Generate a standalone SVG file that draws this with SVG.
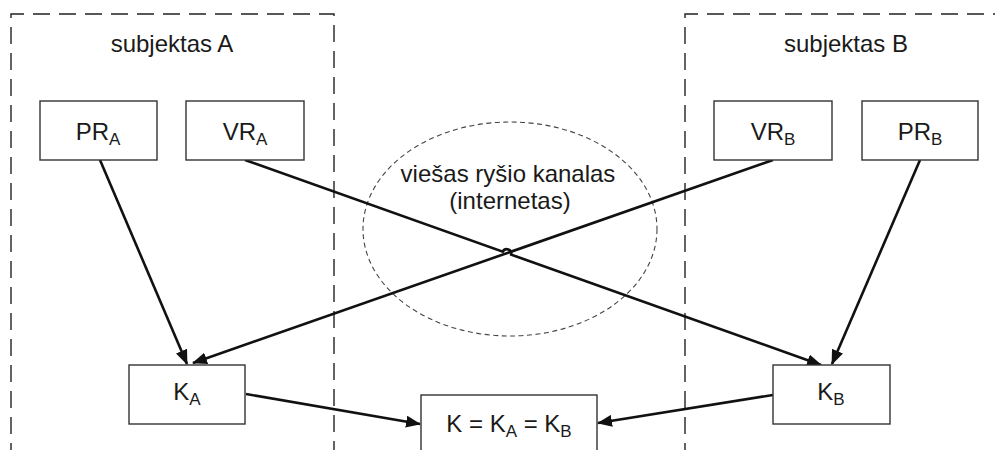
<svg xmlns="http://www.w3.org/2000/svg" width="995" height="450" viewBox="0 0 995 450">
  <style>
    .bg { fill: #ffffff; }
    .zone { fill: none; stroke: #222; stroke-width: 1.4; stroke-dasharray: 17 9; }
    .cloud { fill: none; stroke: #444; stroke-width: 1.1; stroke-dasharray: 5 3.5; }
    .box { fill: #ffffff; stroke: #333; stroke-width: 1.4; }
    .edge { fill: none; stroke: #111; stroke-width: 2.6; }
    .lbl { font-family: "Liberation Sans", Arial, sans-serif; fill: #1a1a1a; }
    .big { font-size: 24px; }
    .nd { font-size: 24px; }
    .sub { font-size: 17px; }
  </style>
  <defs>
    <marker id="arrow" viewBox="0 0 15 12" refX="14" refY="6" markerWidth="15" markerHeight="12" markerUnits="userSpaceOnUse" orient="auto">
      <path d="M0,0 L15,6 L0,12 z" fill="#111"/>
    </marker>
  </defs>

  <rect class="bg" x="0" y="0" width="995" height="450"/>

  <!-- party zones -->
  <g id="zone-a">
    <path class="zone" d="M11,460 L11,14 L334,14 L334,460"/>
    <text class="lbl big" x="172" y="52" text-anchor="middle">subjektas A</text>
  </g>
  <g id="zone-b">
    <path class="zone" d="M685,460 L685,14 L1000,14"/>
    <text class="lbl big" x="846" y="52" text-anchor="middle">subjektas B</text>
  </g>

  <!-- public channel -->
  <g id="channel">
    <ellipse class="cloud" cx="510" cy="229" rx="147" ry="107"/>
    <text class="lbl big" x="508" y="182" text-anchor="middle">viešas ryšio kanalas</text>
    <text class="lbl big" x="510" y="209" text-anchor="middle">(internetas)</text>
  </g>

  <!-- connectors -->
  <g id="connectors">
    <line class="edge" x1="100" y1="160" x2="187" y2="364" marker-end="url(#arrow)"/>
    <line class="edge" x1="920" y1="160" x2="832" y2="364" marker-end="url(#arrow)"/>
    <line class="edge" x1="773" y1="160" x2="193" y2="363" marker-end="url(#arrow)"/>
    <path class="edge" d="M245,160 L502.8,251.6 A4.5,4.5 0 0 1 511.2,254.6 L821,365" marker-end="url(#arrow)"/>
    <line class="edge" x1="246" y1="394" x2="420" y2="424" marker-end="url(#arrow)"/>
    <line class="edge" x1="773" y1="395" x2="598" y2="423" marker-end="url(#arrow)"/>
  </g>

  <!-- nodes -->
  <g id="pr-a">
    <rect class="box" x="40" y="101" width="117" height="59"/>
    <text class="lbl nd" x="98" y="140" text-anchor="middle">PR<tspan class="sub" dy="5">A</tspan></text>
  </g>
  <g id="vr-a">
    <rect class="box" x="186" y="101" width="118" height="59"/>
    <text class="lbl nd" x="245" y="140" text-anchor="middle">VR<tspan class="sub" dy="5">A</tspan></text>
  </g>
  <g id="vr-b">
    <rect class="box" x="714" y="101" width="118" height="59"/>
    <text class="lbl nd" x="773" y="140" text-anchor="middle">VR<tspan class="sub" dy="5">B</tspan></text>
  </g>
  <g id="pr-b">
    <rect class="box" x="862" y="101" width="116" height="59"/>
    <text class="lbl nd" x="920" y="140" text-anchor="middle">PR<tspan class="sub" dy="5">B</tspan></text>
  </g>
  <g id="k-a">
    <rect class="box" x="129" y="365" width="116" height="59"/>
    <text class="lbl nd" x="187" y="400" text-anchor="middle">K<tspan class="sub" dy="5">A</tspan></text>
  </g>
  <g id="k-b">
    <rect class="box" x="773" y="365" width="117" height="59"/>
    <text class="lbl nd" x="831" y="400" text-anchor="middle">K<tspan class="sub" dy="5">B</tspan></text>
  </g>
  <g id="k">
    <rect class="box" x="421" y="395" width="176" height="70"/>
    <text class="lbl nd" x="509" y="432" text-anchor="middle">K = K<tspan class="sub" dy="5">A</tspan><tspan dy="-5"> = K</tspan><tspan class="sub" dy="5">B</tspan></text>
  </g>
</svg>
